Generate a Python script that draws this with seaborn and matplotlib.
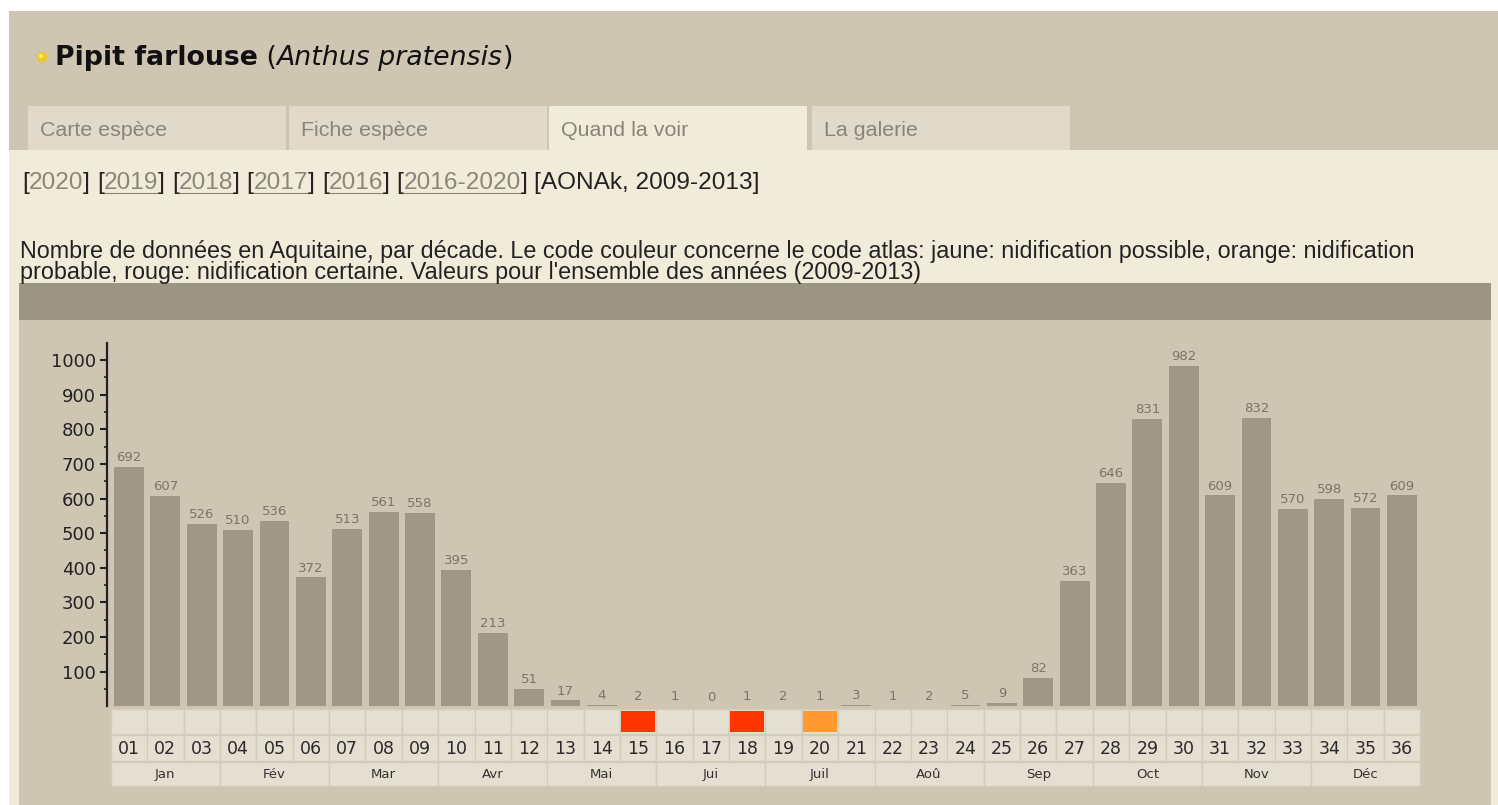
import numpy as np
import pandas as pd
import matplotlib
matplotlib.use("Agg")
import matplotlib.pyplot as plt
import matplotlib.transforms as mtransforms
from matplotlib.patches import Rectangle, Circle
import seaborn as sns

# data
decades = ["%02d" % i for i in range(1, 37)]
counts = [692, 607, 526, 510, 536, 372, 513, 561, 558, 395, 213, 51,
          17, 4, 2, 1, 0, 1, 2, 1, 3, 1, 2, 5,
          9, 82, 363, 646, 831, 982, 609, 832, 570, 598, 572, 609]
atlas_codes = {"15": "rouge", "18": "rouge", "20": "orange"}
months = ["Jan", "Fév", "Mar", "Avr", "Mai", "Jui",
          "Juil", "Aoû", "Sep", "Oct", "Nov", "Déc"]
tabs = ["Carte espèce", "Fiche espèce", "Quand la voir", "La galerie"]
years = ["2020", "2019", "2018", "2017", "2016", "2016-2020"]
desc1 = ("Nombre de données en Aquitaine, par décade. Le code couleur concerne le code atlas: "
         "jaune: nidification possible, orange: nidification")
desc2 = "probable, rouge: nidification certaine. Valeurs pour l'ensemble des années (2009-2013)"

df = pd.DataFrame({"decade": decades, "n": counts})

TAN = "#cec6b3"
CREAM = "#f1ebda"
TAB = "#e1dacb"
HEADER = "#9d9584"
BAR = "#a09786"
CELL = "#e5dfd1"
CELL_EDGE = "#d3ccbb"
code_colors = {"rouge": "#ff3500", "orange": "#ff9a33"}
NARROW = "Liberation Sans"

W, H = 1498, 805
fig = plt.figure(figsize=(W / 100, H / 100), dpi=100)
fig.patch.set_facecolor("white")

bg = fig.add_axes([0, 0, 1, 1])
bg.set_xlim(0, W)
bg.set_ylim(H, 0)
bg.axis("off")

# page background
bg.add_patch(Rectangle((9, 11), W - 9, 139, color=TAN, lw=0))
bg.add_patch(Rectangle((9, 150), W - 9, H - 150, color=CREAM, lw=0))
bg.add_patch(Rectangle((19, 283), 1472, 37, color=HEADER, lw=0))
bg.add_patch(Rectangle((19, 320), 1472, H - 320, color=TAN, lw=0))

fig.canvas.draw()
renderer = fig.canvas.get_renderer()


def fit(t, width):
    bb = t.get_window_extent(renderer)
    t.set_fontsize(t.get_fontsize() * width / bb.width)


# title
bg.add_patch(Circle((42, 57), 5, facecolor="#f3c914", edgecolor="#f3c914", lw=0))
bg.add_patch(Circle((41, 56), 2.2, facecolor="#fbe97a", lw=0))
t1 = bg.text(55, 58, "Pipit farlouse", fontsize=18, fontweight="bold",
             color="#111111", va="center")
t2 = bg.annotate(" (", xy=(1, 0), xycoords=t1, va="bottom", fontsize=18, color="#111111")
t3 = bg.annotate("Anthus pratensis", xy=(1, 0), xycoords=t2, va="bottom",
                 fontsize=18, style="italic", color="#111111")
t4 = bg.annotate(")", xy=(1, 0), xycoords=t3, va="bottom", fontsize=18, color="#111111")
fig.canvas.draw()
tw = t4.get_window_extent(renderer).x1 - t1.get_window_extent(renderer).x0
for tt in (t1, t2, t3, t4):
    tt.set_fontsize(18 * 458 / tw)

# tabs
tab_x = [28, 289, 549, 812]
tab_texts = []
for i, (label, x0) in enumerate(zip(tabs, tab_x)):
    face = CREAM if i == 2 else TAB
    bg.add_patch(Rectangle((x0, 106), 258, 44, color=face, lw=0))
    tab_texts.append(bg.text(x0 + 12, 130, label, fontsize=12, color="#8a8478",
                             va="center", family=NARROW))
fit(tab_texts[0], 127)
for tt in tab_texts[1:]:
    tt.set_fontsize(tab_texts[0].get_fontsize())

# description (two lines, one text)
d1 = bg.text(20, 257, desc1, fontsize=12, color="#222222", va="baseline", family=NARROW)
fit(d1, 1395)
fs_text = d1.get_fontsize()
h1 = d1.get_window_extent(renderer).height
d1.set_text(desc1 + "\n" + desc2)
d1.set_va("top")
d1.set_position((20, 242))
fig.canvas.draw()
gap = d1.get_window_extent(renderer).height - h1
d1.set_linespacing(1.2 * 20 / gap)
fig.canvas.draw()
bb = d1.get_window_extent(renderer)
top_px = H - bb.y1
d1.set_position((20, 242 - (top_px - 240)))

# year links
parts = []
for y in years:
    parts += [("[", 0), (y, 2 if y != "2020" else 1), ("] ", 0)]
parts += [("[AONAk, 2009-2013]", 0)]
prev = None
year_texts = []
link_texts = []
for s, link in parts:
    col = "#8c8578" if link else "#222222"
    if prev is None:
        tt = bg.text(22, 183, s, fontsize=fs_text, color=col, va="center", family=NARROW)
    else:
        tt = bg.annotate(s, xy=(1, 0), xycoords=prev, va="bottom", fontsize=fs_text,
                         color=col, family=NARROW)
    year_texts.append(tt)
    if link == 2:
        link_texts.append(tt)
    prev = tt
fig.canvas.draw()
yw = year_texts[-1].get_window_extent(renderer).x1 - year_texts[0].get_window_extent(renderer).x0
for tt in year_texts:
    tt.set_fontsize(fs_text * 736 / yw)

# bar chart
x_left, x_right = 107, 1422
pitch = 36.37
c0 = 129
xmin = -(c0 - x_left) / pitch
xmax = 35 + (x_right - (c0 + 35 * pitch)) / pitch
y0_px, ytop_px = 706.3, 343
ymax = (y0_px - ytop_px) / 34.63 * 100

ax = fig.add_axes([x_left / W, (H - y0_px) / H, (x_right - x_left) / W, (y0_px - ytop_px) / H])
ax.patch.set_alpha(0)
sns.barplot(data=df, x="decade", y="n", color=BAR, saturation=1, width=0.82, ax=ax)
ax.set_xlim(xmin, xmax)
ax.set_ylim(0, ymax)
ax.bar_label(ax.containers[0], padding=2, fontsize=9.5, color="#7c7466")
for s in ["top", "right", "bottom"]:
    ax.spines[s].set_visible(False)
ax.spines["left"].set_color("#222222")
ax.spines["left"].set_linewidth(1.6)
ax.set_yticks(range(100, 1001, 100))
ax.set_yticks(range(50, 1001, 50), minor=True)
ax.tick_params(axis="y", which="major", length=5, width=1.5, color="#222222",
               labelsize=13, labelcolor="#222222", pad=3)
ax.tick_params(axis="y", which="minor", length=2, width=1.2, color="#222222")
ax.tick_params(axis="x", bottom=False, labelbottom=False)
ax.set_xlabel("")
ax.set_ylabel("")

# table under the bars (columns follow the bar axis scale)
blend = mtransforms.blended_transform_factory(ax.transData, bg.transData)
for i, d in enumerate(decades):
    bg.add_patch(Rectangle((i - 0.5, 709), 1, 25, transform=blend,
                           facecolor=CELL, edgecolor=CELL_EDGE, lw=1))
    bg.add_patch(Rectangle((i - 0.5, 735), 1, 26, transform=blend,
                           facecolor=CELL, edgecolor=CELL_EDGE, lw=1))
    if d in atlas_codes:
        bg.add_patch(Rectangle((i - 0.47, 711), 0.94, 21, transform=blend,
                               facecolor=code_colors[atlas_codes[d]], lw=0))
    bg.text(i, 749, d, transform=blend, ha="center", va="center",
            fontsize=12.5, color="#2a2a2a")
for m, name in enumerate(months):
    bg.add_patch(Rectangle((3 * m - 0.5, 762), 3, 24, transform=blend,
                           facecolor=CELL, edgecolor=CELL_EDGE, lw=1))
    bg.text(3 * m + 1, 774, name, transform=blend, ha="center", va="center",
            fontsize=9.5, color="#333333")

# underline year links
fig.canvas.draw()
inv = bg.transData.inverted()
for tt in link_texts:
    bb = tt.get_window_extent(renderer)
    (xa, ya), (xb, yb) = inv.transform([(bb.x0, bb.y0), (bb.x1, bb.y0)])
    bg.plot([xa, xb], [ya - 1, yb - 1], color="#8c8578", lw=0.8)

fig.savefig("out.png", dpi=100, facecolor=fig.get_facecolor())
